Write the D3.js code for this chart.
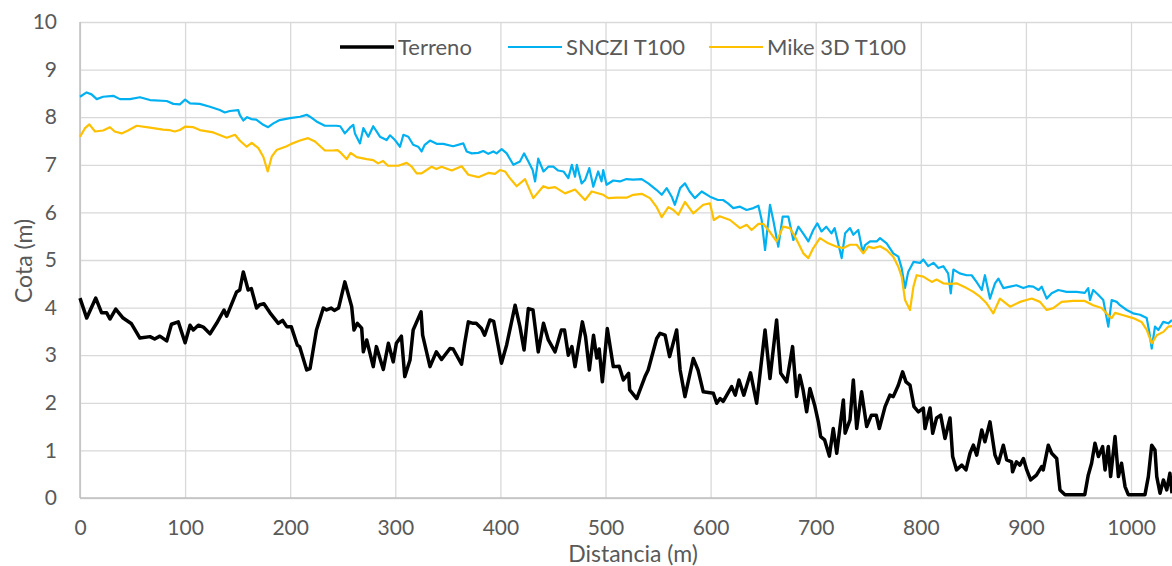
<!DOCTYPE html>
<html>
<head>
<meta charset="utf-8">
<script src="https://cdn.jsdelivr.net/npm/d3@7"></script>
<style>
  body { margin: 0; background: #fff; }
  text { font-family: Lato, "Open Sans", sans-serif; fill: #595959; }
</style>
</head>
<body>
<div id="vis"></div>
<script>
// data: [distancia (m), cota (m)]
const terreno = [[0,4.2],[6.4,3.78],[15,4.2],[20.6,3.89],[25.4,3.89],[28.5,3.76],[34,3.97],[41,3.78],[49,3.66],[57,3.36],[66.6,3.39],[71,3.34],[76,3.4],[82.5,3.3],[87,3.65],[93.5,3.7],[100,3.26],[104.7,3.63],[107.8,3.53],[112.6,3.63],[117.3,3.59],[123.7,3.45],[130,3.67],[137,3.95],[139.6,3.82],[149,4.33],[152,4.37],[155.4,4.75],[160,4.37],[163,4.4],[168,3.99],[171,4.06],[175,4.08],[180.8,3.89],[188.7,3.67],[192.8,3.73],[196.7,3.6],[201,3.6],[206.8,3.21],[209,3.18],[215.7,2.69],[218.9,2.72],[225,3.53],[231.5,3.99],[234.6,3.95],[239,3.99],[242,3.94],[246,3.99],[252,4.54],[258.5,4.02],[260.7,3.53],[263.9,3.67],[268,3.57],[269.6,3.07],[272.8,3.32],[279,2.76],[282,3.18],[288.6,2.7],[293.4,3.25],[298,2.86],[301,3.25],[305.8,3.4],[309,2.55],[314,2.9],[317,3.53],[324.5,3.91],[326,3.42],[333,2.76],[339,3.07],[344,2.91],[352,3.14],[355,3.13],[363,2.81],[366,3.25],[369.5,3.7],[374,3.67],[377,3.67],[382,3.56],[385,3.42],[390,3.74],[393.6,3.71],[401,2.83],[406,3.22],[414,4.05],[418.6,3.6],[422.5,3.11],[426.6,3.98],[431,3.95],[436,3.07],[441,3.67],[445.6,3.32],[452,3.07],[458,3.53],[461,3.53],[464.6,3.0],[468,3.18],[471,2.76],[478,3.7],[481,3.39],[484.6,2.69],[488.6,3.42],[491.7,2.94],[494,3.13],[497,2.44],[501.7,3.56],[507.4,2.76],[513,2.77],[517,2.48],[522,2.62],[523,2.27],[529.7,2.09],[537.6,2.55],[540.6,2.69],[548.7,3.35],[551.9,3.46],[556.7,3.42],[561,2.97],[567.7,3.53],[571,2.69],[575.6,2.13],[583.5,2.93],[588,2.69],[593,2.23],[602.6,2.2],[605.8,1.99],[609,2.09],[612,2.03],[620,2.34],[623.5,2.16],[627,2.48],[631.6,2.16],[638,2.63],[643.8,1.99],[651.8,3.53],[656.5,2.51],[662.8,3.74],[666.7,2.62],[672.4,2.44],[678,3.18],[681.8,2.13],[684.8,2.58],[688,2.27],[691.4,1.81],[694.5,2.3],[699,1.95],[702.5,1.6],[704.7,1.29],[708.5,1.22],[713,0.88],[716.7,1.46],[720,0.94],[726.3,2.06],[728,1.36],[732.6,1.64],[735.8,2.48],[739,1.46],[743.6,2.23],[748.5,1.5],[753,1.74],[757.6,1.74],[760.5,1.46],[766,1.92],[770.6,2.16],[773.8,2.13],[778.6,2.37],[782.7,2.65],[785.9,2.44],[789.7,2.37],[793.5,1.92],[797.7,1.81],[802.4,1.89],[804,1.46],[808.8,1.89],[811.3,1.36],[815,1.68],[818.9,1.74],[823,1.25],[827.8,1.68],[830.3,0.87],[834,0.59],[839,0.69],[843,0.59],[846.8,0.94],[850,1.11],[853.2,0.9],[858,1.43],[861,1.18],[865.8,1.6],[870.6,0.9],[873.8,0.73],[878.5,1.11],[881.7,0.8],[886.4,0.76],[887.3,0.55],[891,0.76],[894.3,0.69],[897.6,0.83],[900.8,0.59],[904.5,0.38],[910,0.48],[915,0.66],[916.5,0.59],[921.3,1.11],[924.5,0.94],[929.3,0.83],[932.4,0.17],[937.2,0.07],[956,0.07],[959.3,0.48],[962.5,0.73],[965.7,1.15],[969,0.87],[973,1.08],[975.3,0.59],[978.4,1.08],[980.6,0.45],[984.8,1.29],[988,0.45],[991,0.73],[994.3,0.24],[997.4,0.07],[1013.3,0.07],[1016.5,0.45],[1019.7,1.11],[1022.8,1.01],[1024.5,0.45],[1027.6,0.1],[1030.8,0.38],[1034,0.17],[1037,0.52],[1039,0.1]];

const snczi = [[0,8.43],[6.3,8.52],[11,8.48],[15.9,8.38],[22,8.43],[31.7,8.45],[38,8.38],[47.6,8.38],[57,8.42],[66.6,8.36],[82.5,8.34],[88.8,8.28],[95,8.27],[100,8.37],[104.7,8.29],[114,8.28],[123.7,8.22],[133,8.15],[137.8,8.1],[142.6,8.13],[150.6,8.15],[152,8.05],[155.4,7.93],[159,8.0],[163,7.96],[167.7,7.95],[174.4,7.84],[179,7.79],[184,7.87],[190,7.94],[199.8,7.98],[209.3,8.01],[215.7,8.05],[218.8,8.01],[225,7.91],[233,7.82],[244,7.82],[247.6,7.81],[252,7.66],[256.8,7.78],[260,7.84],[261.6,7.66],[266.4,7.45],[269.6,7.77],[274.3,7.59],[279,7.81],[285.4,7.59],[291.7,7.52],[294.9,7.62],[299.7,7.52],[304.5,7.38],[307.7,7.63],[312.4,7.59],[317,7.42],[321.8,7.38],[325,7.28],[328,7.42],[333,7.51],[339.3,7.44],[345.6,7.44],[355,7.39],[364.7,7.45],[367.9,7.28],[372.7,7.24],[379,7.25],[383.7,7.29],[388.5,7.23],[393.3,7.28],[396.4,7.24],[401.2,7.33],[406,7.24],[412.3,7.0],[418.6,7.07],[422.5,7.24],[426.6,7.07],[430.7,6.89],[433,6.65],[436,7.13],[441,6.86],[445.6,6.96],[450.3,6.96],[455,6.88],[460,6.86],[464.6,6.72],[468,7.0],[471,6.75],[472.7,7.0],[477.3,6.61],[480.5,6.68],[484.6,6.93],[488.4,6.54],[493,6.86],[496.2,6.65],[497.8,6.89],[501,6.58],[507.4,6.67],[513.7,6.65],[520,6.7],[526.4,6.69],[534.4,6.7],[540.7,6.61],[548.7,6.47],[553.5,6.37],[558.2,6.51],[563,6.33],[566,6.16],[571,6.51],[575.6,6.61],[580,6.44],[585,6.3],[591.5,6.44],[599.4,6.33],[607,6.26],[611.8,6.26],[616.5,6.19],[621.6,6.09],[628,6.12],[634.3,6.05],[640.7,6.09],[645.5,6.14],[648.6,5.84],[651.8,5.21],[655,5.84],[656.5,6.16],[659.6,5.84],[664.4,5.28],[668.6,5.91],[674,5.91],[678.7,5.42],[683.5,5.7],[688,5.56],[693,5.39],[697.7,5.63],[701.5,5.77],[705.5,5.6],[710,5.7],[715,5.56],[718,5.67],[724.7,5.04],[728,5.56],[732.6,5.67],[735.8,5.53],[740.5,5.63],[744.7,5.17],[747,5.31],[751.7,5.39],[758,5.39],[761.2,5.46],[767.5,5.35],[773.8,5.14],[778.6,5.07],[781.8,4.83],[785,4.41],[788,4.75],[793,4.96],[799.3,4.94],[802.4,5.01],[807,4.87],[812,4.94],[816.7,4.83],[821.4,4.87],[826,4.72],[828.5,4.3],[831,4.8],[837,4.72],[843.6,4.68],[848.4,4.68],[853,4.54],[858,4.37],[861,4.68],[865.8,4.19],[870.6,4.51],[873.8,4.61],[878.5,4.41],[885,4.44],[891,4.47],[897.6,4.41],[902.4,4.45],[907,4.44],[912,4.37],[915,4.44],[919.8,4.19],[924.5,4.3],[930.8,4.37],[938.7,4.33],[948.3,4.33],[956,4.31],[959.3,4.41],[961,4.16],[964,4.37],[968.8,4.27],[973.6,4.16],[978.4,3.6],[981.6,4.16],[986.4,4.12],[989.5,4.05],[995.9,3.95],[1002,3.88],[1008.6,3.85],[1014.9,3.78],[1017.4,3.49],[1019.7,3.14],[1022.8,3.6],[1026,3.53],[1030.7,3.7],[1035.4,3.67],[1039,3.74]];

const mike = [[0,7.59],[4.8,7.77],[8.9,7.85],[14.3,7.7],[22,7.72],[28.5,7.79],[33,7.7],[39.6,7.66],[45.7,7.72],[54,7.82],[66.6,7.78],[79,7.74],[85,7.73],[90,7.7],[95,7.73],[100,7.8],[107.8,7.79],[114,7.73],[126.8,7.68],[139.6,7.57],[147.5,7.63],[152,7.51],[158.6,7.38],[163.4,7.46],[169.7,7.35],[174.4,7.17],[178.6,6.86],[182.4,7.17],[187,7.31],[196.7,7.39],[201,7.44],[209.3,7.51],[217,7.56],[223.6,7.49],[233,7.3],[240.6,7.3],[245,7.31],[248.3,7.25],[253.7,7.12],[257.5,7.25],[263.3,7.16],[272.8,7.12],[279,7.1],[283.6,7.03],[288.4,7.08],[293,6.98],[302.9,6.98],[310.8,7.04],[315.6,6.96],[320.3,6.82],[325,6.82],[329.8,6.89],[334.6,6.96],[339,6.91],[344,6.96],[353.7,6.88],[363.2,6.97],[369.5,6.79],[379,6.74],[388.5,6.83],[394.8,6.81],[399.6,6.89],[404.4,6.86],[409,6.72],[415.5,6.55],[423.4,6.7],[431.3,6.3],[440.8,6.55],[445.6,6.51],[452,6.53],[461.5,6.4],[471,6.48],[480.5,6.26],[486.9,6.44],[497.9,6.37],[502.6,6.3],[510.5,6.31],[520,6.31],[526.4,6.37],[534.4,6.39],[542.3,6.3],[548.7,6.11],[553.5,5.9],[559.8,6.11],[564.6,6.05],[569.3,5.95],[575.6,6.22],[583.5,5.98],[593,6.16],[599.4,6.19],[603,5.84],[608.6,5.92],[618.5,5.84],[628,5.67],[634.3,5.74],[639,5.63],[645.5,5.76],[650,5.76],[655,5.63],[662.8,5.39],[669,5.7],[675.4,5.67],[680.3,5.49],[683.5,5.35],[688.2,5.14],[693,5.04],[697.7,5.25],[704,5.46],[712,5.35],[720,5.28],[726.3,5.25],[732.6,5.32],[739,5.32],[745.3,5.14],[750,5.28],[755,5.25],[761.2,5.29],[767.5,5.21],[773.8,5.07],[778.6,4.86],[781.8,4.65],[785,4.16],[789.7,3.95],[793,4.44],[796,4.68],[802.4,4.65],[810.4,4.54],[815,4.59],[821.4,4.51],[827.7,4.5],[834,4.51],[843.6,4.41],[850,4.33],[856.3,4.23],[862.6,4.09],[869,3.88],[875.3,4.19],[884.9,4.02],[894.4,4.12],[905.5,4.19],[913.4,4.12],[919.8,3.95],[926,3.99],[934,4.12],[945,4.14],[956,4.14],[964,4.05],[972,3.99],[978.4,3.84],[981.6,3.78],[984.8,3.89],[992.7,3.84],[1002,3.78],[1010,3.7],[1015,3.53],[1019.7,3.25],[1024.5,3.42],[1030.8,3.49],[1035.4,3.6],[1039,3.61]];

const seriesNames = ["Terreno", "SNCZI T100", "Mike 3D T100"];
const xTicks = [0, 100, 200, 300, 400, 500, 600, 700, 800, 900, 1000];
const yTicks = [0, 1, 2, 3, 4, 5, 6, 7, 8, 9, 10];

//frame
const FRAME_WIDTH = 1172;
const FRAME_HEIGHT = 566;
const MARGINS = {left: 80, right: 0, top: 22, bottom: 68};
const VIS_WIDTH = FRAME_WIDTH - MARGINS.left - MARGINS.right;
const VIS_HEIGHT = FRAME_HEIGHT - MARGINS.top - MARGINS.bottom;

const FRAME = d3.select("#vis")
  .append("svg")
  .attr("width", FRAME_WIDTH)
  .attr("height", FRAME_HEIGHT);

const X_SCALE = d3.scaleLinear().domain([0, 1039]).range([0, VIS_WIDTH]);
const Y_SCALE = d3.scaleLinear().domain([0, 10]).range([VIS_HEIGHT, 0]);

const G = FRAME.append("g")
  .attr("transform", "translate(" + MARGINS.left + "," + MARGINS.top + ")");

//gridlines
G.append("g")
  .call(d3.axisLeft(Y_SCALE).tickValues(yTicks).tickSize(-VIS_WIDTH).tickFormat(""))
  .call(g => g.select(".domain").remove())
  .call(g => g.selectAll("line").attr("stroke", "#d9d9d9").attr("stroke-width", 1.3));

G.append("g")
  .attr("transform", "translate(0," + VIS_HEIGHT + ")")
  .call(d3.axisBottom(X_SCALE).tickValues(xTicks).tickSize(-VIS_HEIGHT).tickFormat(""))
  .call(g => g.select(".domain").remove())
  .call(g => g.selectAll("line").attr("stroke", "#d9d9d9").attr("stroke-width", 1.3));

//axis lines
G.append("line").attr("x1", 0).attr("x2", VIS_WIDTH)
  .attr("y1", VIS_HEIGHT).attr("y2", VIS_HEIGHT)
  .attr("stroke", "#bfbfbf").attr("stroke-width", 1.5);
G.append("line").attr("x1", 0).attr("x2", 0)
  .attr("y1", 0).attr("y2", VIS_HEIGHT)
  .attr("stroke", "#bfbfbf").attr("stroke-width", 1.5);

//tick labels
G.append("g")
  .attr("transform", "translate(0," + VIS_HEIGHT + ")")
  .call(d3.axisBottom(X_SCALE).tickValues(xTicks).tickSize(0).tickPadding(22).tickFormat(d3.format("d")))
  .call(g => g.select(".domain").remove())
  .selectAll("text").attr("font-size", "21px").attr("fill", "#595959");

G.append("g")
  .call(d3.axisLeft(Y_SCALE).tickValues(yTicks).tickSize(0).tickPadding(23).tickFormat(d3.format("d")))
  .call(g => g.select(".domain").remove())
  .selectAll("text").attr("font-size", "21px").attr("fill", "#595959");

//series lines
const line = d3.line()
  .x(d => X_SCALE(d[0]))
  .y(d => Y_SCALE(d[1]));

const series = [
  {name: seriesNames[0], data: terreno, color: "#000000", width: 3.5},
  {name: seriesNames[1], data: snczi, color: "#00b0f0", width: 2.2},
  {name: seriesNames[2], data: mike, color: "#ffc000", width: 2.2}
];

// draw order: blue under orange, terrain on top
[series[1], series[2], series[0]].forEach(s => {
  G.append("path")
    .datum(s.data)
    .attr("d", line)
    .attr("fill", "none")
    .attr("stroke", s.color)
    .attr("stroke-width", s.width)
    .attr("stroke-linejoin", "round");
});

//legend
const legendX = [340, 508, 709];
series.forEach((s, i) => {
  const lg = FRAME.append("g").attr("transform", "translate(" + legendX[i] + ",47)");
  lg.append("line").attr("x1", 0).attr("x2", 54).attr("y1", 0).attr("y2", 0)
    .attr("stroke", s.color).attr("stroke-width", s.width);
  lg.append("text").attr("x", 58).attr("y", 0).attr("dy", "0.35em")
    .attr("font-size", "22px").text(s.name);
});

//axis titles
FRAME.append("text")
  .attr("x", 633).attr("y", 562)
  .attr("text-anchor", "middle")
  .attr("font-size", "23px")
  .text("Distancia (m)");

FRAME.append("text")
  .attr("transform", "translate(32,261) rotate(-90)")
  .attr("text-anchor", "middle")
  .attr("font-size", "23px")
  .text("Cota (m)");
</script>
</body>
</html>
